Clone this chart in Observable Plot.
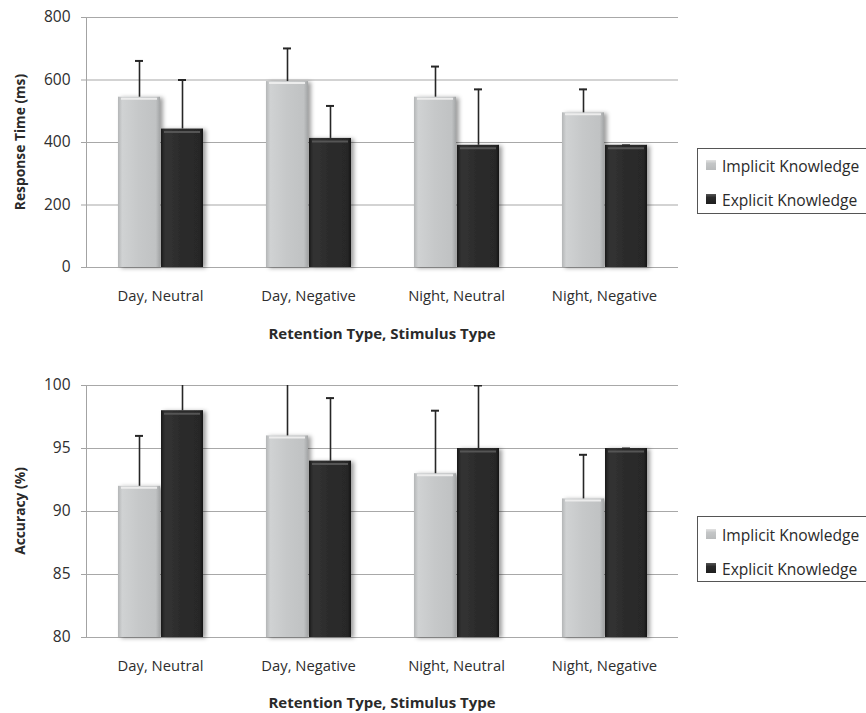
<!DOCTYPE html>
<html>
<head>
<meta charset="utf-8">
<script src="https://cdn.jsdelivr.net/npm/d3@7"></script>
<script src="https://cdn.jsdelivr.net/npm/@observablehq/plot@0.6"></script>
<style>
  body { margin: 0; background: #fff; font-family: "Open Sans", sans-serif; }
  #wrap { position: relative; width: 866px; height: 713px; overflow: hidden; background: #fff; }
  .chart { position: absolute; left: 0; }
  .chart text { fill: #2e2e2e; }
  .chart g[aria-label="y-axis tick label"] text { font-size: 15.5px; }
  .title { position: absolute; font-weight: bold; font-size: 15px; color: #2a2a2a; white-space: nowrap; transform: translate(-50%, -50%); }
  .title.y { font-size: 13.8px; transform: translate(-50%, -50%) rotate(-90deg); }
  .legend { position: absolute; left: 697px; width: 190px; border: 1.5px solid #555; background: #fff; box-sizing: border-box; }
  .legend .item { position: absolute; left: 8px; display: flex; align-items: center; font-size: 15.6px; color: #2a2a2a; white-space: nowrap; transform: translateY(-50%); }
  .legend .sw { width: 10px; height: 10px; margin-right: 6px; margin-top: -3px; }
</style>
</head>
<body>
<div id="wrap"></div>
<script>
// Conditions and series
const conditions = ["Day, Neutral", "Day, Negative", "Night, Neutral", "Night, Negative"];
const seriesNames = ["Implicit Knowledge", "Explicit Knowledge"];

// Response time (ms): means and upper error
const rtImplicit = [545, 595, 545, 495];
const rtExplicit = [443, 413, 391, 391];
const rtImplicitErr = [116, 106, 98, 75];
const rtExplicitErr = [157, 104, 179, 0];
const rtTicks = [0, 200, 400, 600, 800];

// Accuracy (%): means and upper error
const accImplicit = [92, 96, 93, 91];
const accExplicit = [98, 94, 95, 95];
const accImplicitErr = [4, 4.5, 5, 3.5];
const accExplicitErr = [2.5, 5, 5, 0];
const accTicks = [80, 85, 90, 95, 100];

const wrap = document.getElementById("wrap");

// Shared gradients and shadow for the bars
const defs = d3.select(wrap).append("svg")
  .attr("width", 0).attr("height", 0)
  .style("position", "absolute").style("left", 0).style("top", 0)
  .append("defs");

function gradient(id, stops) {
  const g = defs.append("linearGradient").attr("id", id)
    .attr("x1", 0).attr("x2", 1).attr("y1", 0).attr("y2", 0);
  for (const [o, c] of stops) g.append("stop").attr("offset", o).attr("stop-color", c);
}
gradient("gradImplicit", [[0, "#b4b6b7"], [0.1, "#d0d2d3"], [0.5, "#c6c8c9"], [0.9, "#c0c2c3"], [1, "#a3a5a6"]]);
gradient("gradExplicit", [[0, "#1c1c1c"], [0.1, "#333333"], [0.5, "#2b2b2b"], [0.9, "#282828"], [1, "#161616"]]);

const shadow = defs.append("filter").attr("id", "barShadow")
  .attr("x", "-20%").attr("y", "-5%").attr("width", "150%").attr("height", "115%");
shadow.append("feDropShadow").attr("dx", 3).attr("dy", 1).attr("stdDeviation", 2)
  .attr("flood-color", "#000").attr("flood-opacity", 0.38);

function rowsOf(imp, exp, impErr, expErr) {
  return conditions.flatMap((c, i) => [
    {condition: c, series: seriesNames[0], value: imp[i], err: impErr[i]},
    {condition: c, series: seriesNames[1], value: exp[i], err: expErr[i]}
  ]);
}

function chart({rows, ticks, top, height, marginBottom}) {
  const base = ticks[0];
  const isImp = d => d.series === seriesNames[0];
  const svg = Plot.plot({
    width: 866,
    height,
    marginTop: 17,
    marginLeft: 86,
    marginRight: 188,
    marginBottom,
    style: {color: "#a3a3a3", fontFamily: "Open Sans", fontSize: "14.8px", background: "transparent", overflow: "visible"},
    fx: {domain: conditions, padding: 0, label: null, tickSize: 0, tickPadding: 23},
    x: {domain: seriesNames, paddingInner: 0.03, paddingOuter: 0.735, axis: null},
    y: {domain: [ticks[0], ticks[ticks.length - 1]], ticks, tickSize: 5, tickPadding: 11, label: null, line: true},
    color: {domain: seriesNames, range: ["url(#gradImplicit)", "url(#gradExplicit)"]},
    marks: [
      Plot.ruleY(ticks, {stroke: "#a8a8a8", strokeWidth: 1.2}),
      Plot.barY(rows, {fx: "condition", x: "series", y1: base, y2: "value", fill: "series"}),
      // bevelled top edge
      Plot.tickY(rows, {filter: isImp, fx: "condition", x: "series", y: "value", dy: 1.5, insetLeft: 3, insetRight: 3, stroke: "#ececec", strokeWidth: 2}),
      Plot.tickY(rows, {filter: d => !isImp(d), fx: "condition", x: "series", y: "value", dy: 3, insetLeft: 3, insetRight: 3, stroke: "#555", strokeWidth: 2}),
      // error bars (upper only)
      Plot.ruleX(rows, {fx: "condition", x: "series", y1: "value", y2: d => d.value + d.err, stroke: "#262626", strokeWidth: 1.6, clip: true}),
      Plot.tickY(rows, {fx: "condition", x: "series", y: d => d.value + d.err, stroke: "#262626", strokeWidth: 2, insetLeft: 17, insetRight: 17, clip: true})
    ]
  });
  d3.select(svg).selectAll('g[aria-label="bar"]').attr("filter", "url(#barShadow)");
  svg.classList.add("chart");
  svg.style.top = top + "px";
  wrap.appendChild(svg);
}

function title(text, x, y, vertical) {
  const d = document.createElement("div");
  d.className = "title" + (vertical ? " y" : "");
  d.textContent = text;
  d.style.left = x + "px";
  d.style.top = y + "px";
  wrap.appendChild(d);
}

function legend(top, rowYs) {
  const box = document.createElement("div");
  box.className = "legend";
  box.style.top = top + "px";
  box.style.height = "66px";
  const fills = ["linear-gradient(#e2e2e2, #c4c6c7 35%, #b9bbbc)", "linear-gradient(#555, #2a2a2a 35%, #1e1e1e)"];
  seriesNames.forEach((name, i) => {
    const it = document.createElement("div");
    it.className = "item";
    it.style.top = (rowYs[i] - top) + "px";
    const sw = document.createElement("span");
    sw.className = "sw";
    sw.style.background = fills[i];
    it.appendChild(sw);
    it.appendChild(document.createTextNode(name));
    box.appendChild(it);
  });
  wrap.appendChild(box);
}

chart({rows: rowsOf(rtImplicit, rtExplicit, rtImplicitErr, rtExplicitErr), ticks: rtTicks, top: 0, height: 350, marginBottom: 83});
chart({rows: rowsOf(accImplicit, accExplicit, accImplicitErr, accExplicitErr), ticks: accTicks, top: 368, height: 345, marginBottom: 76});

title("Response Time (ms)", 19, 142, true);
title("Retention Type, Stimulus Type", 382, 333);
title("Accuracy (%)", 19, 511, true);
title("Retention Type, Stimulus Type", 382, 702);

legend(148, [165, 199]);
legend(516, [534, 568]);
</script>
</body>
</html>
